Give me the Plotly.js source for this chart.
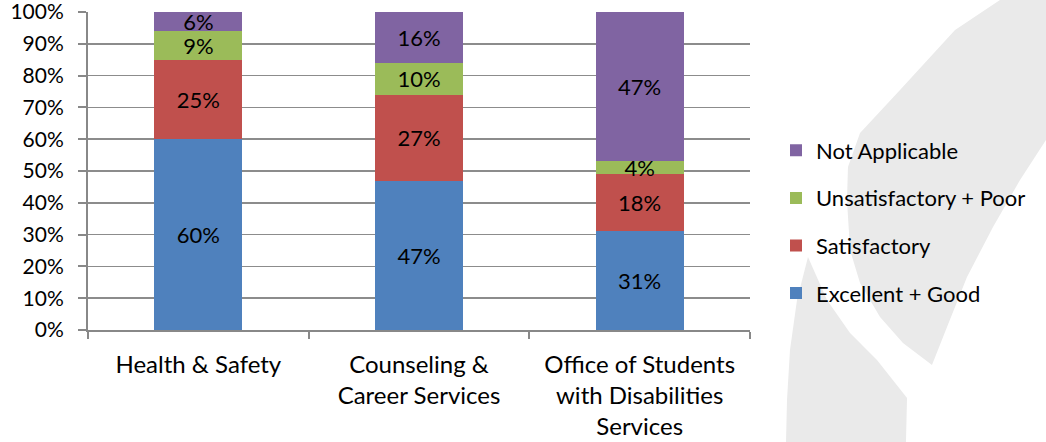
<!DOCTYPE html>
<html>
<head>
<meta charset="utf-8">
<script src="https://cdn.plot.ly/plotly-3.0.1.min.js"></script>
<style>
  html, body { margin: 0; padding: 0; background: #ffffff; }
  #chart { width: 1046px; height: 442px; }
</style>
</head>
<body>
<div id="chart"></div>
<script>
// ---- data ----
const categories = [
  "Health & Safety",
  "Counseling &<br>Career Services",
  "Office of Students<br>with Disabilities<br>Services"
];
const seriesNames = ["Excellent + Good", "Satisfactory", "Unsatisfactory + Poor", "Not Applicable"];
const excellentGood = [60, 47, 31];
const satisfactory = [25, 27, 18];
const unsatisfactoryPoor = [9, 10, 4];
const notApplicable = [6, 16, 47];
const yTickValues = [0, 10, 20, 30, 40, 50, 60, 70, 80, 90, 100];

// ---- style ----
const colors = ["#4F81BD", "#C0504D", "#9BBB59", "#8064A2"];
const FONT = "Lato, 'Open Sans', sans-serif";
const W = 1046, H = 442;
const M = { l: 88, r: 296, t: 12, b: 112 };
const PW = W - M.l - M.r, PH = H - M.t - M.b;

const seriesValues = [excellentGood, satisfactory, unsatisfactoryPoor, notApplicable];
const traces = seriesValues.map((vals, i) => ({
  type: "bar",
  name: seriesNames[i],
  x: categories,
  y: vals,
  legendgroup: "g" + i,
  legendrank: 100 - i,
  marker: { color: colors[i], line: { width: 0 } },
  text: vals.map(v => v + "%"),
  textposition: "inside",
  insidetextanchor: "middle",
  textangle: 0,
  constraintext: "none",
  textfont: { family: FONT, size: 22, color: "#000000" },
  hoverinfo: "skip"
}));

// decorative watermark (pixel outline converted to paper coords)
function px2paper(pts) {
  return pts.map(([x, y], k) => (k === 0 ? "M" : "L") +
    ((x - M.l) / PW).toFixed(4) + "," + ((H - M.b - y) / PH).toFixed(4)).join(" ") + " Z";
}
const crescent = [
  [1000, 0], [955, 30], [900, 90], [860, 133], [848, 167], [847, 200], [850, 250],
  [860, 283], [880, 317], [903, 343], [932, 365], [947, 327], [967, 277], [993, 227],
  [1020, 180], [1046, 140], [1046, 0]
];
const blade = [
  [808, 257], [797, 300], [790, 350], [787, 400], [786, 442], [906, 442],
  [907, 398], [877, 360], [850, 333], [827, 300]
];
const decoShapes = [crescent, blade].map(p => ({
  type: "path", xref: "paper", yref: "paper", layer: "below",
  path: px2paper(p), fillcolor: "#EAEAEA", line: { width: 0 }
}));

const layout = {
  width: W, height: H,
  margin: M,
  paper_bgcolor: "rgba(0,0,0,0)",
  plot_bgcolor: "#ffffff",
  barmode: "stack",
  bargap: 0.6,
  font: { family: FONT, size: 22, color: "#000000" },
  showlegend: true,
  legend: {
    x: (776 - M.l) / PW, xanchor: "left",
    y: (H - M.b - 222) / PH, yanchor: "middle",
    traceorder: "grouped",
    tracegroupgap: 16,
    font: { family: FONT, size: 22, color: "#000000" },
    bgcolor: "rgba(0,0,0,0)"
  },
  xaxis: {
    type: "category",
    showline: true, linecolor: "#888888", linewidth: 2,
    ticks: "outside", tickson: "boundaries", ticklen: 7, tickcolor: "#888888", tickwidth: 2,
    showgrid: false,
    tickfont: { family: FONT, size: 24, color: "#000000" },
    ticklabelstandoff: 12,
    fixedrange: true
  },
  yaxis: {
    range: [0, 100],
    tickvals: yTickValues,
    ticktext: yTickValues.map(v => v + "%"),
    showline: true, linecolor: "#888888", linewidth: 2,
    ticks: "outside", ticklen: 8, tickcolor: "#888888", tickwidth: 2,
    showgrid: true, gridcolor: "#8c8c8c", gridwidth: 1.5,
    zeroline: false,
    ticklabeloverflow: "allow",
    ticklabelstandoff: 10,
    tickfont: { family: FONT, size: 21, color: "#000000" },
    fixedrange: true
  },
  shapes: decoShapes
};

Plotly.newPlot("chart", traces, layout, { displayModeBar: false, staticPlot: true });
</script>
</body>
</html>
